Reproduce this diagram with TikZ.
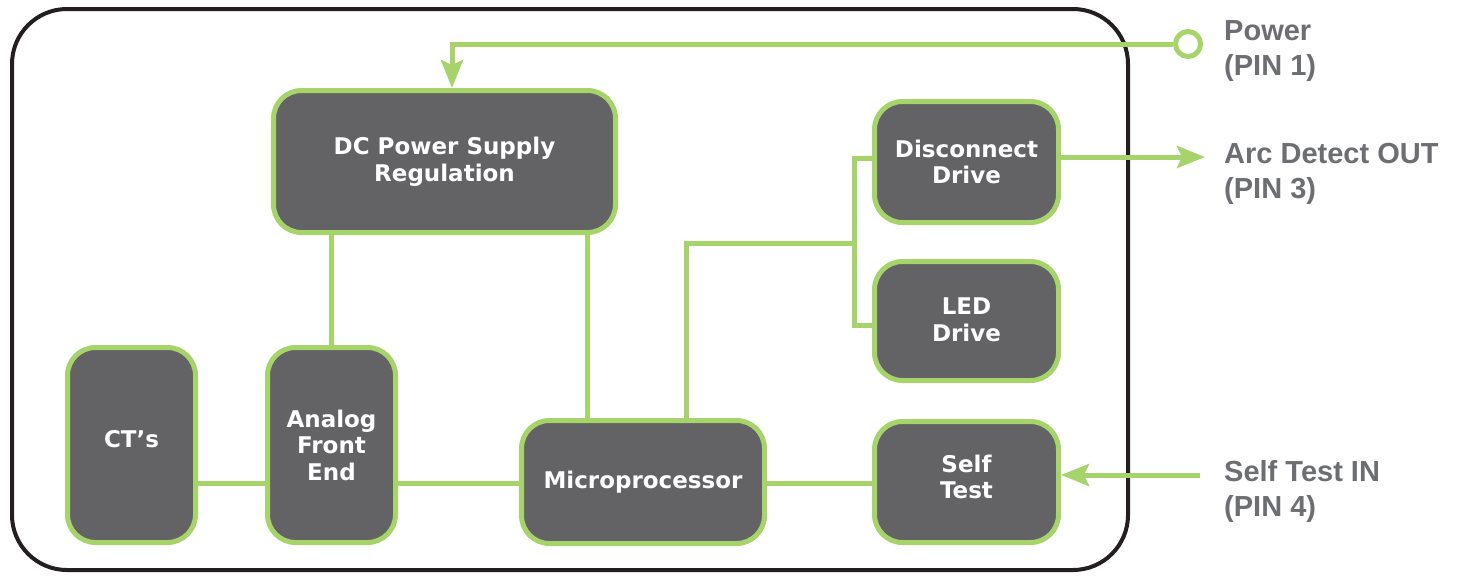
\documentclass[tikz,border=0pt]{standalone}
\usepackage{fontspec}
\setmainfont{Liberation Sans}
\newfontfamily\boxfont{DejaVu Sans Bold}
\newfontfamily\pinfont{Liberation Sans Bold}
\usetikzlibrary{arrows.meta}
\definecolor{lgreen}{RGB}{166,212,106}
\definecolor{boxgray}{RGB}{99,98,101}
\definecolor{labgray}{RGB}{109,110,113}
\definecolor{frameblack}{RGB}{35,31,32}
\tikzset{
  blk/.style={draw=lgreen, line width=5pt, fill=boxgray, rounded corners=28pt,
    text=white, align=center, inner sep=0pt,
    font=\boxfont\fontsize{23}{26.5}\selectfont},
  wire/.style={draw=lgreen, line width=5pt},
  arr/.style={wire, -{Stealth[length=28pt, width=22pt, inset=5pt]}},
  pinlab/.style={anchor=west, align=left, text=labgray, inner sep=0pt,
    font=\pinfont\fontsize{29}{35}\selectfont},
}
\begin{document}
\begin{tikzpicture}[x=1pt, y=-1pt]
\useasboundingbox (0,0) rectangle (1461,576);
% outer frame
\draw[frameblack, line width=4pt, rounded corners=55pt] (12,9) rectangle (1128,570);

% blocks
\node[blk, minimum width=342pt, minimum height=142pt] (dc) at (444.5,161.5) {DC Power Supply\\Regulation\rule[-4pt]{0pt}{0pt}};
\node[blk, minimum width=184pt, minimum height=121pt] (disc) at (966.5,162) {Disconnect\\Drive};
\node[blk, minimum width=184pt, minimum height=119pt] (led) at (966.5,321) {LED\\Drive\rule[-3pt]{0pt}{0pt}};
\node[blk, minimum width=128pt, minimum height=195pt] (ct) at (131.5,445) {CT’s\rule[-12pt]{0pt}{0pt}};
\node[blk, minimum width=128pt, minimum height=195pt] (afe) at (331.5,445) {Analog\\Front\\End};
\node[blk, minimum width=243pt, minimum height=123pt] (mcu) at (643,482) {Microprocessor\rule[-4pt]{0pt}{0pt}};
\node[blk, minimum width=184pt, minimum height=121pt] (self) at (966.5,482) {Self\\Test\rule[-10pt]{0pt}{0pt}};

% power pin
\node[draw=lgreen, line width=5pt, circle, minimum size=25pt, inner sep=0pt, fill=white] (pwr) at (1188,44) {};
\coordinate (pbend) at (452,44);
\draw[arr] (pwr.west) -- (pbend) -- (pbend |- dc.north);

% internal wiring
\coordinate (hl) at (0,483);
\draw[wire] (ct.east |- hl) -- (afe.west |- hl);
\draw[wire] (afe.east |- hl) -- (mcu.west |- hl);
\draw[wire] (mcu.east |- hl) -- (self.west |- hl);
\draw[wire] (afe.north) -- (afe.north |- dc.south);
\coordinate (j1) at (587,0);
\draw[wire] (j1 |- dc.south) -- (j1 |- mcu.north);
\coordinate (j2) at (686,0);
\coordinate (bus) at (854,243);
\coordinate (busTop) at (854,158);
\coordinate (busBot) at (854,325);
\draw[wire] (j2 |- mcu.north) -- (j2 |- bus) -- (bus);
\draw[wire, line cap=rect] (busTop) -- (busBot);
\draw[wire] (busTop) -- (busTop -| disc.west);
\draw[wire] (busBot) -- (busBot -| led.west);

% outputs / inputs
\coordinate (arcEnd) at (1205,157);
\draw[arr] (disc.east |- arcEnd) -- (arcEnd);
\coordinate (stIn) at (1200,475);
\draw[arr] (stIn) -- (stIn -| self.east);

% pin labels
\node[pinlab] (lpwr) at (1224,51) {Power\\(PIN 1)};
\node[pinlab] (larc) at (1224,174) {Arc Detect OUT\\(PIN 3)};
\node[pinlab] (lst) at (1224,491) {Self Test IN\\(PIN 4)};
\end{tikzpicture}
\end{document}
